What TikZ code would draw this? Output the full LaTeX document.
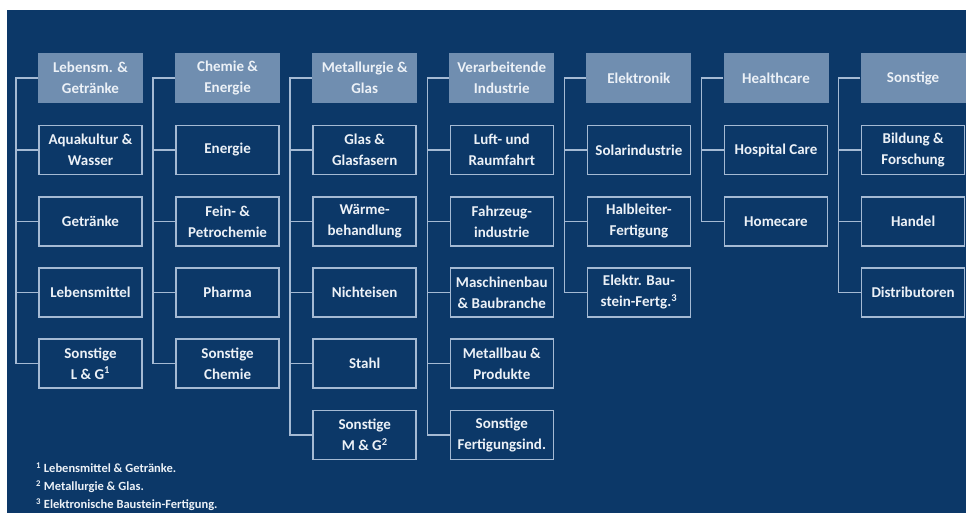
\documentclass[tikz,border=0pt]{standalone}
\usepackage{fontspec}
\setmainfont{Carlito}
\definecolor{bg}{RGB}{12,56,104}
\definecolor{hd}{RGB}{112,142,176}
\definecolor{ln}{RGB}{165,186,212}
\definecolor{tx}{RGB}{236,241,247}
\begin{document}
\begin{tikzpicture}[x=1pt,y=-1pt,
  head/.style={fill=hd, minimum width=105pt, minimum height=50pt, text=tx,
    font=\bfseries\fontsize{15}{21}\selectfont, align=center, inner sep=0pt},
  sub/.style={draw=ln, line width=1.6pt, fill=bg, minimum width=103pt, minimum height=49pt,
    text=tx, font=\bfseries\fontsize{15}{21}\selectfont, align=center, inner sep=0pt},
  conn/.style={draw=ln, line width=1.6pt},
  fn/.style={text=tx, font=\bfseries\fontsize{12.5}{14}\selectfont, anchor=west, inner sep=0pt}]
\useasboundingbox (0,0) rectangle (966,513);
\fill[white] (0,0) rectangle (966,513);
\fill[bg] (7,10) rectangle (966,513);

% column 1
\node[head] (h1) at (90.5,78) {Lebensm. \&\\Getränke};
\node[sub] (c11) at (90.5,150) {Aquakultur \&\\Wasser};
\node[sub] (c12) at (90.5,221.5) {Getränke};
\node[sub] (c13) at (90.5,292.5) {Lebensmittel};
\node[sub] (c14) at (90.5,363.5) {Sonstige\\L \& G\textsuperscript{1}};
\coordinate (t1) at (16,78);
\draw[conn] (h1.west) -- (t1) |- (c14.west);
\foreach \c in {c11,c12,c13} \draw[conn] (\c.west) -- (\c.west -| t1);

% column 2
\node[head] (h2) at (227.6,78) {Chemie \&\\Energie};
\node[sub] (c21) at (227.6,150) {Energie};
\node[sub] (c22) at (227.6,221.5) {Fein- \&\\Petrochemie};
\node[sub] (c23) at (227.6,292.5) {Pharma};
\node[sub] (c24) at (227.6,363.5) {Sonstige\\Chemie};
\coordinate (t2) at (153.1,78);
\draw[conn] (h2.west) -- (t2) |- (c24.west);
\foreach \c in {c21,c22,c23} \draw[conn] (\c.west) -- (\c.west -| t2);

% column 3
\node[head] (h3) at (364.7,78) {Metallurgie \&\\Glas};
\node[sub] (c31) at (364.7,150) {Glas \&\\Glasfasern};
\node[sub] (c32) at (364.7,221.5) {Wärme-\\behandlung};
\node[sub] (c33) at (364.7,292.5) {Nichteisen};
\node[sub] (c34) at (364.7,363.5) {Stahl};
\node[sub] (c35) at (364.7,435) {Sonstige\\M \& G\textsuperscript{2}};
\coordinate (t3) at (290.2,78);
\draw[conn] (h3.west) -- (t3) |- (c35.west);
\foreach \c in {c31,c32,c33,c34} \draw[conn] (\c.west) -- (\c.west -| t3);

% column 4
\node[head] (h4) at (501.8,78) {Verarbeitende\\Industrie};
\node[sub] (c41) at (501.8,150) {Luft- und\\Raumfahrt};
\node[sub] (c42) at (501.8,221.5) {Fahrzeug-\\industrie};
\node[sub] (c43) at (501.8,292.5) {Maschinenbau\\\& Baubranche};
\node[sub] (c44) at (501.8,363.5) {Metallbau \&\\Produkte};
\node[sub] (c45) at (501.8,435) {Sonstige\\Fertigungsind.};
\coordinate (t4) at (427.3,78);
\draw[conn] (h4.west) -- (t4) |- (c45.west);
\foreach \c in {c41,c42,c43,c44} \draw[conn] (\c.west) -- (\c.west -| t4);

% column 5
\node[head] (h5) at (638.9,78) {Elektronik};
\node[sub] (c51) at (638.9,150) {Solarindustrie};
\node[sub] (c52) at (638.9,221.5) {Halbleiter-\\Fertigung};
\node[sub] (c53) at (638.9,292.5) {Elektr. Bau-\\stein-Fertg.\textsuperscript{3}};
\coordinate (t5) at (564.4,78);
\draw[conn] (h5.west) -- (t5) |- (c53.west);
\foreach \c in {c51,c52} \draw[conn] (\c.west) -- (\c.west -| t5);

% column 6
\node[head] (h6) at (776,78) {Healthcare};
\node[sub] (c61) at (776,150) {Hospital Care};
\node[sub] (c62) at (776,221.5) {Homecare};
\coordinate (t6) at (701.5,78);
\draw[conn] (h6.west) -- (t6) |- (c62.west);
\draw[conn] (c61.west) -- (c61.west -| t6);

% column 7
\node[head] (h7) at (913.1,78) {Sonstige};
\node[sub] (c71) at (913.1,150) {Bildung \&\\Forschung};
\node[sub] (c72) at (913.1,221.5) {Handel};
\node[sub] (c73) at (913.1,292.5) {Distributoren};
\coordinate (t7) at (838.6,78);
\draw[conn] (h7.west) -- (t7) |- (c73.west);
\foreach \c in {c71,c72} \draw[conn] (\c.west) -- (\c.west -| t7);

% footnotes
\node[fn] (f1) at (36,468) {\textsuperscript{1} Lebensmittel \& Getränke.};
\node[fn] (f2) at (36,487) {\textsuperscript{2} Metallurgie \& Glas.};
\node[fn] (f3) at (36,505) {\textsuperscript{3} Elektronische Baustein-Fertigung.};
\end{tikzpicture}
\end{document}
